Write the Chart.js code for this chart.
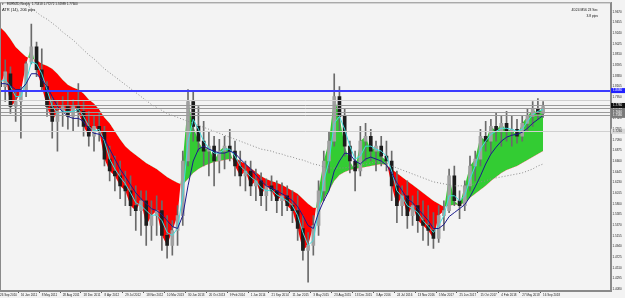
<!DOCTYPE html>
<html>
<head>
<meta charset="utf-8">
<script src="https://cdn.jsdelivr.net/npm/chart.js@4.4.1/dist/chart.umd.min.js"></script>
<style>
  body { margin: 0; background: #f3f3f3; }
  #wrap { width: 625px; height: 298px; }
</style>
</head>
<body>
<div id="wrap"><canvas id="chart"></canvas></div>
<script>
// EURNZD weekly, one candle every 4 weeks
const dateTicks = ['26 Sep 2010', '16 Jan 2011', '8 May 2011', '28 Aug 2011', '18 Dec 2011', '8 Apr 2012',
    '29 Jul 2012', '18 Nov 2012', '10 Mar 2013', '30 Jun 2013', '20 Oct 2013', '9 Feb 2014', '1 Jun 2014',
    '21 Sep 2014', '11 Jan 2015', '3 May 2015', '23 Aug 2015', '13 Dec 2015', '3 Apr 2016', '24 Jul 2016',
    '13 Nov 2016', '5 Mar 2017', '25 Jun 2017', '15 Oct 2017', '4 Feb 2018', '27 May 2018', '16 Sep 2018'];

const priceTicks = [1.9670, 1.9455, 1.9240, 1.9025, 1.8810, 1.8595, 1.8380, 1.8165, 1.7950, 1.7735,
    1.7520, 1.7305, 1.7090, 1.6875, 1.6660, 1.6445, 1.6230, 1.6015, 1.5800, 1.5585,
    1.5370, 1.5155, 1.4940, 1.4725, 1.4510, 1.4295, 1.4080];

const opens = [1.826,1.816,1.842,1.776,1.786,1.806,1.866,1.896,1.850,1.816,
    1.776,1.746,1.766,1.776,1.756,1.776,1.766,1.736,1.716,1.736,
    1.726,1.670,1.646,1.636,1.616,1.606,1.576,1.566,1.586,1.536,
    1.556,1.566,1.516,1.496,1.526,1.556,1.666,1.786,1.736,1.706,
    1.686,1.696,1.666,1.686,1.696,1.686,1.656,1.636,1.646,1.616,
    1.626,1.596,1.616,1.606,1.586,1.596,1.576,1.566,1.530,1.486,
    1.496,1.536,1.606,1.666,1.706,1.796,1.756,1.696,1.666,1.646,
    1.706,1.716,1.686,1.696,1.676,1.666,1.616,1.576,1.596,1.556,
    1.576,1.546,1.536,1.526,1.510,1.556,1.566,1.636,1.586,1.576,
    1.616,1.656,1.670,1.716,1.706,1.736,1.726,1.742,1.726,1.730,
    1.716,1.742,1.756,1.770,1.762];

const highs = [1.866,1.870,1.856,1.806,1.816,1.866,1.942,1.906,1.892,1.826,
    1.796,1.786,1.796,1.806,1.790,1.822,1.786,1.766,1.756,1.762,
    1.736,1.696,1.676,1.666,1.646,1.636,1.616,1.606,1.606,1.586,
    1.596,1.586,1.556,1.546,1.576,1.686,1.810,1.806,1.776,1.746,
    1.726,1.716,1.710,1.716,1.730,1.706,1.686,1.666,1.666,1.650,
    1.642,1.630,1.636,1.626,1.622,1.616,1.606,1.596,1.556,1.522,
    1.556,1.626,1.686,1.726,1.842,1.816,1.770,1.706,1.686,1.736,
    1.742,1.730,1.706,1.716,1.706,1.686,1.646,1.616,1.626,1.596,
    1.606,1.586,1.576,1.562,1.576,1.586,1.650,1.656,1.606,1.626,
    1.676,1.686,1.730,1.746,1.750,1.762,1.756,1.766,1.756,1.750,
    1.756,1.770,1.786,1.792,1.786];

const lows = [1.796,1.786,1.762,1.746,1.712,1.796,1.862,1.836,1.806,1.756,
    1.712,1.686,1.736,1.730,1.726,1.736,1.716,1.696,1.686,1.706,
    1.656,1.626,1.606,1.590,1.576,1.556,1.526,1.516,1.496,1.506,
    1.516,1.486,1.470,1.476,1.496,1.536,1.656,1.706,1.686,1.656,
    1.636,1.616,1.642,1.650,1.666,1.636,1.616,1.606,1.596,1.586,
    1.576,1.566,1.586,1.562,1.556,1.566,1.542,1.506,1.466,1.422,
    1.476,1.516,1.586,1.642,1.696,1.726,1.676,1.642,1.606,1.636,
    1.666,1.666,1.646,1.656,1.646,1.586,1.542,1.556,1.530,1.536,
    1.522,1.506,1.496,1.490,1.502,1.526,1.562,1.576,1.550,1.566,
    1.606,1.626,1.656,1.686,1.682,1.706,1.696,1.706,1.696,1.702,
    1.706,1.726,1.736,1.750,1.754];

const closes = [1.816,1.846,1.776,1.786,1.806,1.862,1.896,1.850,1.816,1.776,
    1.746,1.766,1.776,1.756,1.776,1.766,1.736,1.716,1.736,1.726,
    1.670,1.646,1.636,1.616,1.606,1.576,1.566,1.586,1.536,1.556,
    1.566,1.516,1.496,1.526,1.556,1.666,1.786,1.736,1.706,1.686,
    1.696,1.666,1.686,1.696,1.686,1.656,1.636,1.646,1.616,1.626,
    1.596,1.616,1.606,1.586,1.596,1.576,1.566,1.530,1.486,1.496,
    1.536,1.606,1.666,1.706,1.796,1.756,1.696,1.666,1.646,1.706,
    1.716,1.686,1.696,1.676,1.666,1.616,1.576,1.596,1.556,1.576,
    1.546,1.536,1.526,1.510,1.556,1.566,1.636,1.586,1.576,1.616,
    1.656,1.670,1.716,1.706,1.736,1.726,1.742,1.726,1.730,1.716,
    1.742,1.756,1.770,1.762,1.776];

// the smooth line the red / green cloud is filled to
const band = [1.936,1.926,1.912,1.896,1.886,1.876,1.872,1.870,1.862,1.858,
    1.852,1.842,1.830,1.820,1.814,1.810,1.802,1.790,1.782,1.770,
    1.754,1.742,1.726,1.710,1.696,1.686,1.678,1.670,1.662,1.656,
    1.650,1.642,1.634,1.628,1.622,1.618,1.630,1.642,1.650,1.656,
    1.660,1.664,1.666,1.668,1.670,1.672,1.666,1.660,1.652,1.644,
    1.636,1.630,1.626,1.622,1.618,1.612,1.606,1.600,1.590,1.580,
    1.572,1.572,1.590,1.606,1.626,1.638,1.644,1.648,1.650,1.652,
    1.654,1.656,1.658,1.660,1.658,1.650,1.642,1.634,1.626,1.618,
    1.610,1.602,1.594,1.586,1.580,1.574,1.576,1.578,1.578,1.582,
    1.592,1.600,1.608,1.616,1.626,1.634,1.642,1.648,1.652,1.656,
    1.662,1.668,1.674,1.680,1.686];

const fastMa = [1.826,1.830,1.816,1.796,1.796,1.826,1.866,1.862,1.842,1.810,
    1.776,1.762,1.766,1.766,1.766,1.770,1.756,1.736,1.726,1.730,
    1.706,1.670,1.650,1.634,1.620,1.602,1.582,1.576,1.566,1.556,
    1.558,1.546,1.522,1.516,1.530,1.596,1.706,1.750,1.730,1.706,
    1.692,1.682,1.682,1.690,1.690,1.676,1.656,1.646,1.634,1.626,
    1.612,1.606,1.608,1.598,1.592,1.586,1.576,1.556,1.522,1.496,
    1.506,1.566,1.626,1.666,1.742,1.756,1.730,1.696,1.670,1.676,
    1.696,1.696,1.690,1.686,1.676,1.646,1.606,1.594,1.576,1.570,
    1.562,1.546,1.534,1.522,1.536,1.556,1.596,1.596,1.586,1.596,
    1.630,1.656,1.690,1.706,1.720,1.726,1.732,1.732,1.730,1.726,
    1.730,1.746,1.760,1.766,1.770];

const midMa = [1.822,1.822,1.818,1.810,1.810,1.822,1.842,1.842,1.830,1.816,
    1.796,1.776,1.766,1.756,1.752,1.752,1.746,1.730,1.722,1.720,
    1.710,1.690,1.670,1.650,1.634,1.618,1.602,1.590,1.580,1.570,
    1.566,1.558,1.546,1.534,1.530,1.556,1.616,1.666,1.690,1.696,
    1.690,1.686,1.682,1.682,1.686,1.682,1.670,1.660,1.650,1.638,
    1.626,1.616,1.612,1.606,1.600,1.594,1.586,1.574,1.556,1.536,
    1.530,1.562,1.586,1.606,1.646,1.666,1.682,1.680,1.666,1.660,
    1.670,1.674,1.670,1.666,1.658,1.642,1.622,1.606,1.590,1.582,
    1.570,1.558,1.546,1.530,1.530,1.538,1.554,1.562,1.570,1.578,
    1.594,1.614,1.636,1.660,1.680,1.694,1.706,1.714,1.718,1.720,
    1.724,1.732,1.742,1.750,1.758];

const slowMa = [null,null,null,null,null,1.980,1.974,1.966,1.958,1.952,
    1.944,1.936,1.926,1.918,1.910,1.900,1.890,1.880,1.872,1.862,
    1.852,1.844,1.836,1.828,1.820,1.812,1.804,1.796,1.788,1.780,
    1.774,1.768,1.762,1.758,1.754,1.750,1.746,1.742,1.738,1.734,
    1.730,1.726,1.722,1.718,1.714,1.710,1.706,1.702,1.698,1.694,
    1.690,1.688,1.686,1.682,1.680,1.676,1.674,1.670,1.668,1.664,
    1.660,1.658,1.654,1.652,1.652,1.652,1.652,1.654,1.656,1.658,
    1.660,1.662,1.664,1.664,1.662,1.656,1.652,1.648,1.644,1.640,
    1.636,1.632,1.628,1.624,1.622,1.620,1.618,1.616,1.616,1.616,
    1.618,1.620,1.624,1.626,1.630,1.632,1.634,1.636,1.638,1.640,
    1.642,1.646,1.650,1.656,1.660];

// horizontal levels: resistance (blue), price lines, old level
const blueLevel = 1.8080;
const priceLevels = [1.7900, 1.7780, 1.7720, 1.7640, 1.7580];
const oldLevel = 1.7260;
const lastPrice = 1.7780;

const SLOTS = 118; // chart shift: empty slots right of the last candle
const labels = [];
for (let i = 0; i < SLOTS; i++) {
    labels.push(i % 4 === 0 && i / 4 < dateTicks.length ? dateTicks[i / 4] : '');
}

const FONT = '"Liberation Sans", Arial, sans-serif';

const overlay = {
    id: 'overlay',
    beforeDraw(chart) {
        const ctx = chart.ctx;
        ctx.save();
        ctx.fillStyle = '#f3f3f3';
        ctx.fillRect(0, 0, chart.width, chart.height);
        ctx.restore();
    },
    afterDatasetsDraw(chart) {
        const ctx = chart.ctx;
        const a = chart.chartArea;
        const y = chart.scales.y;
        const hline = (v, color, w) => {
            const py = Math.round(y.getPixelForValue(v)) + (w % 2 ? 0.5 : 0);
            ctx.strokeStyle = color;
            ctx.lineWidth = w;
            ctx.beginPath();
            ctx.moveTo(a.left, py);
            ctx.lineTo(a.right, py);
            ctx.stroke();
        };
        ctx.save();
        hline(oldLevel, '#d0d0d0', 1);
        priceLevels.forEach((v, i) => hline(v, i === 0 ? '#cfcfcf' : '#9a9a9a', 1));
        hline(blueLevel, '#3b3bff', 2);
        ctx.strokeStyle = '#8a8a8a';
        ctx.lineWidth = 1;
        ctx.strokeRect(a.left + 0.5, a.top + 0.5, a.right - a.left - 1, a.bottom - a.top - 1);
        ctx.restore();
    },
    afterDraw(chart) {
        const ctx = chart.ctx;
        const a = chart.chartArea;
        const y = chart.scales.y;
        ctx.save();
        const box = (v, bg, fg) => {
            const py = y.getPixelForValue(v);
            ctx.fillStyle = bg;
            ctx.fillRect(a.right, py - 2.5, chart.width - a.right, 5);
            ctx.fillStyle = fg;
            ctx.font = '3px ' + FONT;
            ctx.textBaseline = 'middle';
            ctx.textAlign = 'left';
            ctx.fillText(v.toFixed(4), a.right + 2, py);
        };
        box(oldLevel, '#d8d8d8', '#333');
        priceLevels.slice(2).forEach(v => box(v, '#7a7a7a', '#fff'));
        box(lastPrice, '#111', '#fff');
        box(blueLevel, '#2020ff', '#fff');

        ctx.fillStyle = '#111';
        ctx.textBaseline = 'middle';
        ctx.textAlign = 'left';
        ctx.font = '3px ' + FONT;
        ctx.fillText('\u25BE', 2, 4.5);
        ctx.fillText('EURNZD,Weekly  1.75318 1.77272 1.74989 1.77600', 7, 4.5);
        ctx.font = '4px ' + FONT;
        ctx.fillText('ATR (14), 206 pips', 2, 10);
        ctx.font = '3.3px ' + FONT;
        ctx.textAlign = 'right';
        ctx.fillText('4D24 M56 23 Sec', 598, 10.5);
        ctx.fillText('3.8 pips', 598, 16);
        ctx.restore();
    }
};

const thinLine = (data, color, order, dash) => ({
    type: 'line',
    data: data,
    borderColor: color,
    borderWidth: 1,
    borderDash: dash || [],
    pointRadius: 0,
    tension: 0,
    fill: false,
    order: order
});

new Chart(document.getElementById('chart'), {
    type: 'bar',
    data: {
        labels: labels,
        datasets: [
            {
                type: 'line',
                data: closes,
                borderWidth: 0,
                borderColor: 'rgba(0,0,0,0)',
                pointRadius: 0,
                tension: 0,
                fill: { target: 1, above: '#33cc33', below: '#ff0000' },
                order: 7
            },
            {
                type: 'line',
                data: band,
                borderWidth: 0,
                borderColor: 'rgba(0,0,0,0)',
                pointRadius: 0,
                tension: 0,
                fill: false,
                order: 8
            },
            {
                data: lows.map((l, i) => [l, highs[i]]),
                backgroundColor: '#6a6a6a',
                barThickness: 1,
                grouped: false,
                order: 5
            },
            {
                data: opens.map((o, i) => [o, closes[i]]),
                backgroundColor: opens.map((o, i) => closes[i] >= o ? '#a0a0a0' : '#1c1c1c'),
                barThickness: 3,
                grouped: false,
                order: 4
            },
            thinLine(slowMa, '#8c8c8c', 3, [1, 2]),
            thinLine(fastMa, '#40dede', 2),
            thinLine(midMa, '#1a1a8c', 1)
        ]
    },
    options: {
        responsive: true,
        maintainAspectRatio: false,
        animation: false,
        events: [],
        layout: { padding: 0 },
        plugins: { legend: { display: false }, tooltip: { enabled: false } },
        scales: {
            x: {
                type: 'category',
                offset: false,
                grid: {
                    display: true,
                    drawOnChartArea: false,
                    tickLength: 2,
                    color: ctx => (ctx.tick && ctx.tick.label) ? '#555' : 'rgba(0,0,0,0)'
                },
                border: { display: true, color: '#8a8a8a' },
                ticks: {
                    autoSkip: false,
                    maxRotation: 0,
                    minRotation: 0,
                    align: 'start',
                    padding: 0,
                    color: '#222',
                    font: { family: FONT, size: 3 }
                },
                afterFit: scale => { scale.height = 7; }
            },
            y: {
                position: 'right',
                min: 1.404,
                max: 1.986,
                afterBuildTicks: scale => { scale.ticks = priceTicks.map(v => ({ value: v })); },
                grid: { display: true, drawOnChartArea: false, tickLength: 1, color: '#555' },
                border: { display: true, color: '#8a8a8a' },
                ticks: {
                    autoSkip: false,
                    padding: 0.5,
                    color: '#222',
                    font: { family: FONT, size: 3 },
                    callback: v => Number(v).toFixed(4)
                },
                afterFit: scale => { scale.width = 14; }
            }
        }
    },
    plugins: [overlay]
});
</script>
</body>
</html>
